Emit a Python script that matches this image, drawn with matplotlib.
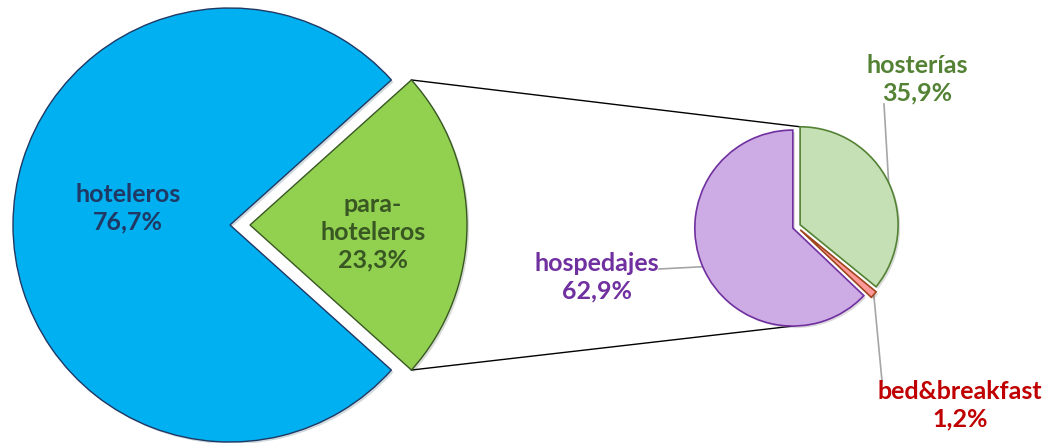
import numpy as np
import matplotlib.pyplot as plt
from matplotlib import patheffects as pe

# datos
main_labels = ['hoteleros', 'para-\nhoteleros']
main_values = [76.7, 23.3]
sub_labels = ['hosterías', 'bed&breakfast', 'hospedajes']
sub_values = [35.9, 1.2, 62.9]

main_colors = ['#00B0F0', '#92D050']
main_edges = ['#1F3864', '#385723']
main_text = ['#1F3864', '#385723']
sub_colors = ['#C5E0B4', '#FF9999', '#CDACE6']
sub_edges = ['#548235', '#A0461E', '#7030A0']
sub_text = ['#548235', '#C00000', '#7030A0']

W, H = 1043, 443
plt.rcParams['font.family'] = ['Lato', 'DejaVu Sans']

fig = plt.figure(figsize=(W / 100, H / 100), dpi=100)
ax = fig.add_axes([0, 0, 1, 1])

shadow = [pe.SimplePatchShadow(offset=(1.5, -1.5), alpha=0.18), pe.Normal()]

# pie principal, porcion verde centrada en 0 grados
# (explode de ax.pie va en unidades de datos, aqui pixeles)
r_main = 217
start = 360 * main_values[1] / 100 / 2
wedges_main, _ = ax.pie(main_values, colors=main_colors, radius=r_main,
                        center=(230, H - 225), startangle=start,
                        explode=[0, 20], counterclock=True,
                        wedgeprops=dict(linewidth=1.0))
for w, ec in zip(wedges_main, main_edges):
    w.set_edgecolor(ec)
    w.set_path_effects(shadow)

# pie secundario
r_sub = 98
wedges_sub, _ = ax.pie(sub_values, colors=sub_colors, radius=r_sub,
                       center=(796.5, H - 226.5), startangle=90,
                       explode=[4, 5, 4], counterclock=False,
                       wedgeprops=dict(linewidth=1.2))
for w, ec in zip(wedges_sub, sub_edges):
    w.set_edgecolor(ec)
    w.set_path_effects(shadow)


def arc_point(w, ang):
    cx, cy = w.center
    a = np.deg2rad(ang)
    return cx + w.r * np.cos(a), cy + w.r * np.sin(a)


# lineas de conexion
g = wedges_main[1]
p1 = arc_point(g, g.theta2)
q1 = arc_point(wedges_sub[0], 90)
p2 = arc_point(g, g.theta1)
q2 = arc_point(wedges_sub[2], 270)
ax.plot([p1[0], q1[0]], [p1[1], q1[1]], color='black', lw=1.0, zorder=0)
ax.plot([p2[0], q2[0]], [p2[1], q2[1]], color='black', lw=1.0, zorder=0)

# etiquetas pie principal
fs = 18
ax.text(128, H - 208, f'{main_labels[0]}\n{main_values[0]:.1f}%'.replace('.', ','),
        ha='center', va='center', fontsize=fs, fontweight='bold',
        color=main_text[0], linespacing=1.25)
ax.text(373, H - 232, f'{main_labels[1]}\n{main_values[1]:.1f}%'.replace('.', ','),
        ha='center', va='center', fontsize=fs, fontweight='bold',
        color=main_text[1], linespacing=1.25)

# etiquetas pie secundario con lineas guia
label_pos = [(917, 79), (960, 405), (597, 277)]
line_start = [(884, 104), (882, 381), (659, 269)]
for w, lab, val, col, (lx, ly), (sx, sy) in zip(wedges_sub, sub_labels, sub_values,
                                                 sub_text, label_pos, line_start):
    mid = (w.theta1 + w.theta2) / 2
    px, py = arc_point(w, mid)
    ax.plot([sx, px], [H - sy, py], color='#A6A6A6', lw=1.2, zorder=0)
    ax.text(lx, H - ly, f'{lab}\n{val:.1f}%'.replace('.', ','),
            ha='center', va='center', fontsize=fs, fontweight='bold',
            color=col, linespacing=1.25)

ax.set_xlim(0, W)
ax.set_ylim(0, H)
ax.set_aspect('equal')
ax.axis('off')

fig.savefig('out.png', dpi=100, facecolor='white')
